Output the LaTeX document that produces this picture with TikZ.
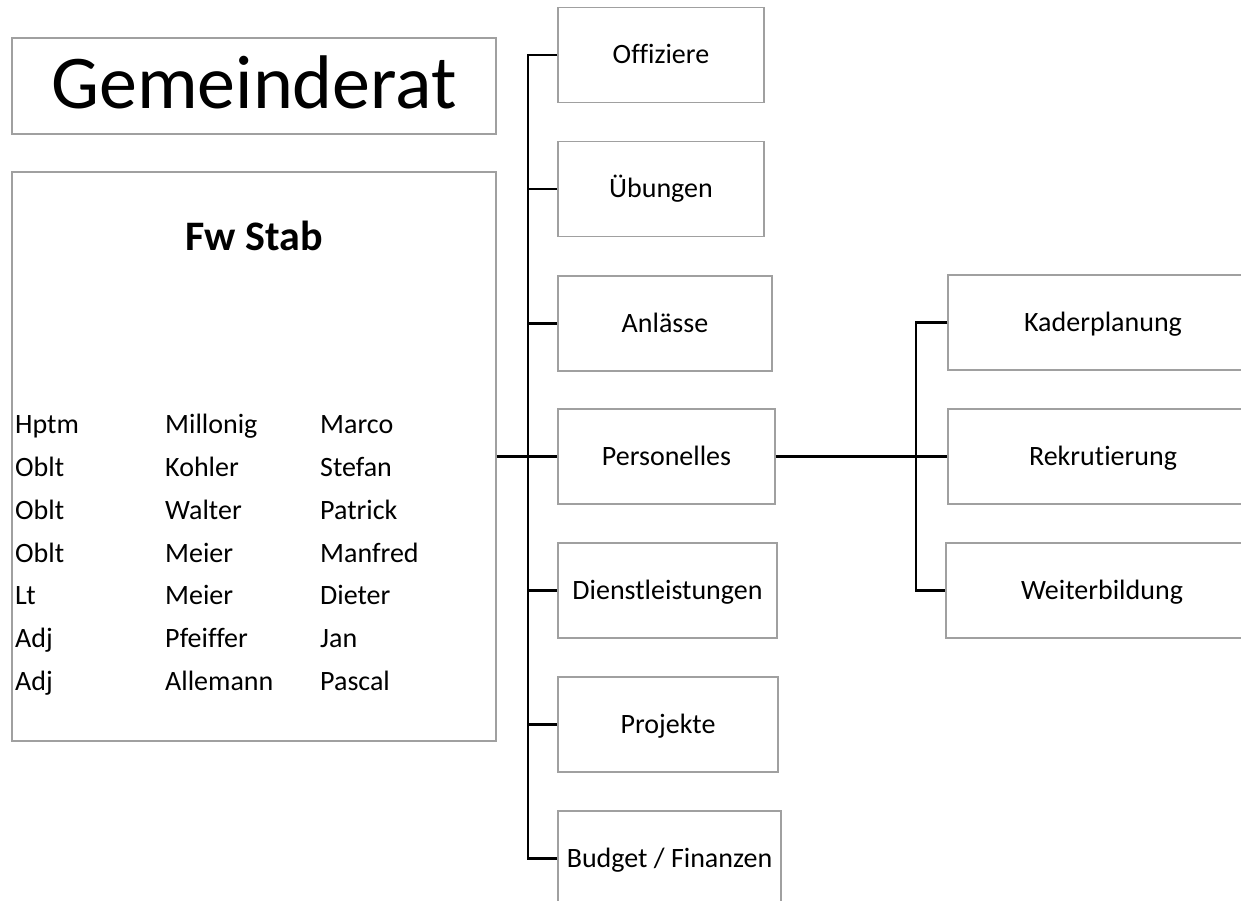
\documentclass[tikz,border=0pt]{standalone}
\usepackage{fontspec}
\setmainfont{Carlito}[Ligatures=NoCommon]
\newcommand{\fsz}[1]{\fontsize{#1}{#1}\selectfont}
\definecolor{boxgray}{RGB}{160,160,160}
\begin{document}
\begin{tikzpicture}[x=1pt,y=-1pt,
  box/.style={draw=boxgray, line width=1.3pt, inner sep=0pt, font=\fsz{28}, minimum height=95pt, text height=20pt, text depth=3pt},
  conn/.style={line width=2.4pt, draw=black},
  cell/.style={anchor=base west, inner sep=0pt, font=\fsz{28}}]
\useasboundingbox (0,0) rectangle (1241,900);
\clip (0,0) rectangle (1241,900);
\fill[white] (0,0) rectangle (1241,900);
% left boxes
\node[box, minimum width=484pt, minimum height=96pt, font=\fsz{76}, text height=52pt, text depth=8pt] (gem) at (254,86) {Gemeinderat};
\node[box, minimum width=484pt, minimum height=569pt] (stab) at (254,456.5) {};
\node[anchor=base, inner sep=0pt, font=\fsz{42}\bfseries] (stabt) at (254,250) {Fw Stab};
% table
\node[cell] (r1a) at (15,433) {Hptm};  \node[cell] (r1b) at (165,433) {Millonig};  \node[cell] (r1c) at (320,433) {Marco};
\node[cell] (r2a) at (15,476) {Oblt};  \node[cell] (r2b) at (165,476) {Kohler};    \node[cell] (r2c) at (320,476) {Stefan};
\node[cell] (r3a) at (15,519) {Oblt};  \node[cell] (r3b) at (165,519) {Walter};    \node[cell] (r3c) at (320,519) {Patrick};
\node[cell] (r4a) at (15,562) {Oblt};  \node[cell] (r4b) at (165,562) {Meier};     \node[cell] (r4c) at (320,562) {Manfred};
\node[cell] (r5a) at (15,604) {Lt};    \node[cell] (r5b) at (165,604) {Meier};     \node[cell] (r5c) at (320,604) {Dieter};
\node[cell] (r6a) at (15,647) {Adj};   \node[cell] (r6b) at (165,647) {Pfeiffer};  \node[cell] (r6c) at (320,647) {Jan};
\node[cell] (r7a) at (15,690) {Adj};   \node[cell] (r7b) at (165,690) {Allemann};  \node[cell] (r7c) at (320,690) {Pascal};
% middle column
\node[box, minimum width=206pt] (off) at (661,55) {Offiziere};
\node[box, minimum width=206pt] (ueb) at (661,189) {Übungen};
\node[box, minimum width=214pt] (anl) at (665,323.5) {Anlässe};
\node[box, minimum width=217pt] (pers) at (666.5,456.5) {Personelles};
\node[box, minimum width=219pt] (dienst) at (667.5,590.5) {Dienstleistungen};
\node[box, minimum width=220pt] (proj) at (668,724.5) {Projekte};
\node[box, minimum width=223pt] (budget) at (669.5,858.5) {Budget / Finanzen};
% right column
\node[box, minimum width=310pt] (kader) at (1103,322.5) {Kaderplanung};
\node[box, minimum width=310pt] (rekr) at (1103,456.5) {Rekrutierung};
\node[box, minimum width=312pt] (weiter) at (1102,590.5) {Weiterbildung};
% connectors
\coordinate (j1) at (528,456.5);
\coordinate (j2) at (916,456.5);
\draw[conn, line width=3pt] (stab.east) -- (j1);
\draw[conn] (off.west) -- (off.west -| j1) -- (budget.west -| j1) -- (budget.west);
\draw[conn] (ueb.west -| j1) -- (ueb.west);
\draw[conn] (anl.west -| j1) -- (anl.west);
\draw[conn] (j1) -- (pers.west);
\draw[conn] (dienst.west -| j1) -- (dienst.west);
\draw[conn] (proj.west -| j1) -- (proj.west);
\draw[conn] (pers.east) -- (rekr.west);
\draw[conn] (kader.west) -- (kader.west -| j2) -- (weiter.west -| j2) -- (weiter.west);
\end{tikzpicture}
\end{document}
